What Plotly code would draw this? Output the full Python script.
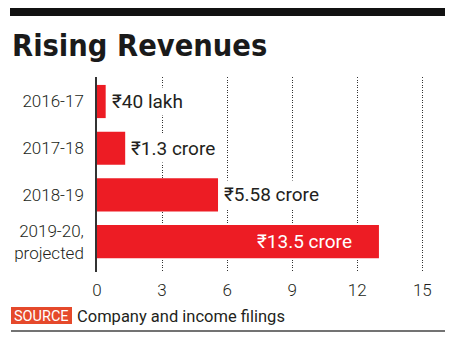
import plotly.graph_objects as go

# ---- data ----
categories = ["2016-17", "2017-18", "2018-19", "2019-20,<br>projected"]
values = [0.4, 1.3, 5.58, 13.0]  # crore, as drawn
value_labels = ["₹40 lakh", "₹1.3 crore", "₹5.58 crore", "₹13.5 crore"]
x_ticks = [0, 3, 6, 9, 12, 15]
title_text = "Rising Revenues"
source_tag = "SOURCE"
source_text = "Company and income filings"

# ---- layout geometry (pixels) ----
W, H = 450, 338
L, R, T, B = 97, 6, 77, 66
PW = W - L - R
PH = H - T - B


def px(x):
    return (x - L) / PW


def py(y):
    return (H - B - y) / PH


RED = "#ED1C24"
TXT = "#231F20"
FONT = "Roboto"

fig = go.Figure()
fig.add_trace(go.Bar(
    x=values, y=categories, orientation="h",
    marker=dict(color=RED, line=dict(width=0)),
    width=0.71, hoverinfo="skip",
))

annotations = []
for i, (v, lab) in enumerate(zip(values, value_labels)):
    last = i == len(values) - 1
    annotations.append(dict(
        x=v, y=categories[i], xref="x", yref="y",
        text=lab, showarrow=False,
        xanchor="right" if last else "left",
        xshift=-24 if last else 3,
        font=dict(family=FONT, size=19, color="white" if last else TXT),
        bgcolor=None if last else "white",
        borderpad=2,
    ))

# title
annotations.append(dict(
    x=px(10), y=py(46), xref="paper", yref="paper",
    text="<b>" + title_text + "</b>", showarrow=False,
    xanchor="left", yanchor="middle",
    font=dict(family="DejaVu Sans Condensed", size=30.5, color="#1a1a1a"),
))
# source
annotations.append(dict(
    x=px(41.5), y=py(316), xref="paper", yref="paper",
    text=source_tag, showarrow=False, xanchor="center", yanchor="middle",
    font=dict(family=FONT, size=14.5, color="white"),
))
annotations.append(dict(
    x=px(75), y=py(316), xref="paper", yref="paper",
    text=source_text, showarrow=False, xanchor="left", yanchor="middle",
    font=dict(family=FONT, size=16.5, color=TXT),
))

shapes = [
    dict(type="rect", xref="paper", yref="paper",
         x0=px(10), x1=px(445), y0=py(16), y1=py(8),
         fillcolor="#111111", line=dict(width=0), layer="above"),
    dict(type="rect", xref="paper", yref="paper",
         x0=px(11), x1=px(72), y0=py(324), y1=py(307),
         fillcolor="#E5492B", line=dict(width=0), layer="above"),
    dict(type="line", xref="paper", yref="paper",
         x0=px(11), x1=px(445), y0=py(331), y1=py(331),
         line=dict(color="#444444", width=1.5), layer="above"),
]

fig.update_layout(
    width=W, height=H,
    margin=dict(l=L, r=R, t=T, b=B, pad=0),
    paper_bgcolor="white", plot_bgcolor="white",
    showlegend=False,
    annotations=annotations, shapes=shapes,
    xaxis=dict(
        range=[0, 16], tickvals=x_ticks, ticktext=[str(t) for t in x_ticks],
        showgrid=True, gridcolor="#333333", gridwidth=1, griddash="1px,1.5px",
        zeroline=False, showline=False, ticks="",
        tickfont=dict(family=FONT, size=17, color=TXT, weight=300),
        ticklabelstandoff=6, fixedrange=True,
    ),
    yaxis=dict(
        categoryorder="array", categoryarray=categories,
        range=[3.65, -0.525],
        showgrid=False, zeroline=False,
        showline=True, linecolor="#333333", linewidth=1.5,
        ticks="", ticklabelstandoff=8,
        tickfont=dict(family=FONT, size=17, color=TXT, weight=300),
        fixedrange=True,
    ),
)

fig.write_html("out.html")
